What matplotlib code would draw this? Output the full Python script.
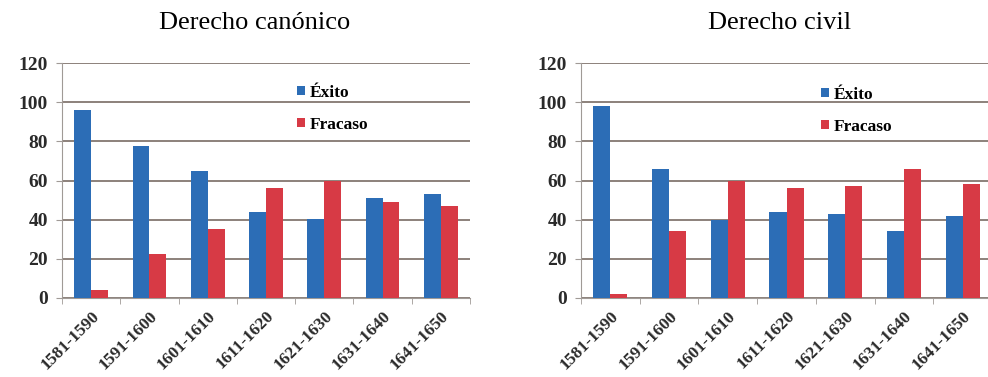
import matplotlib.pyplot as plt
import numpy as np

categories = ["1581-1590", "1591-1600", "1601-1610", "1611-1620", "1621-1630", "1631-1640", "1641-1650"]
canonico_exito = [96, 77.5, 65, 44, 40.5, 51, 53]
canonico_fracaso = [4, 22.5, 35, 56, 59.5, 49, 47]
civil_exito = [98, 66, 40, 44, 43, 34, 42]
civil_fracaso = [2, 34, 60, 56, 57, 66, 58]
titles = ["Derecho canónico", "Derecho civil"]
series_labels = ["Éxito", "Fracaso"]

BLUE = "#2c6db6"
RED = "#d73a45"
GRID = "#8c817b"
SERIF = ["Liberation Serif", "DejaVu Serif"]

W, H = 988, 377
fig = plt.figure(figsize=(W / 100, H / 100), dpi=100)
fig.patch.set_facecolor("white")

panels = [
    (62, 470, canonico_exito, canonico_fracaso, titles[0], 255, (298, 90)),
    (581, 992, civil_exito, civil_fracaso, titles[1], 780, (822, 92)),
]

for (x0, x1, ex, fr, title, tx, leg) in panels:
    ax = fig.add_axes([x0 / W, 1 - 298 / H, (x1 - x0) / W, (298 - 63) / H])
    n = len(categories)
    x = np.arange(n)
    bw = 0.29
    ax.bar(x - bw / 2, ex, bw, color=BLUE, label=series_labels[0], zorder=3)
    ax.bar(x + bw / 2, fr, bw, color=RED, label=series_labels[1], zorder=3)
    ax.set_xlim(-0.5, n - 0.5)
    ax.set_ylim(0, 120)
    ax.set_yticks(range(0, 121, 20))
    ax.yaxis.grid(True, color=GRID, linewidth=1.4, zorder=0)
    ax.set_axisbelow(True)
    for s in ["top", "right"]:
        ax.spines[s].set_visible(False)
    ax.spines["left"].set_color("#a09a96")
    ax.spines["bottom"].set_color("#a09a96")
    ax.tick_params(axis="y", length=4, color="#a09a96", pad=6)
    for lab in ax.get_yticklabels():
        lab.set_fontfamily(SERIF)
        lab.set_fontsize(14)
        lab.set_fontweight("bold")
        lab.set_color("#2a2a2a")
    ax.set_xticks(x)
    ax.set_xticklabels(categories, rotation=45, ha="right", rotation_mode="anchor",
                       family=SERIF, fontsize=12.5, fontweight="bold", color="#2a2a2a")
    ax.tick_params(axis="x", which="major", length=0, pad=7)
    ax.set_xticks(np.arange(-0.5, n, 1.0), minor=True)
    ax.tick_params(axis="x", which="minor", length=4, color="#a09a96")
    for lab in ax.get_xticklabels():
        lab.set_x(lab.get_position()[0])
    fig.text(tx / W, 1 - 23 / H, title, ha="center", va="center", family=SERIF, fontsize=19)
    ax.legend(loc="upper left", bbox_to_anchor=((leg[0] - 8 - x0) / (x1 - x0), 1 - (leg[1] - 12 - 63) / 235),
              frameon=False, handlelength=0.45, handleheight=0.45, handletextpad=0.3,
              labelspacing=0.9, prop={"family": SERIF, "size": 12.5, "weight": "bold"},
              borderaxespad=0)

fig.savefig("out.png", dpi=100, facecolor="white")
